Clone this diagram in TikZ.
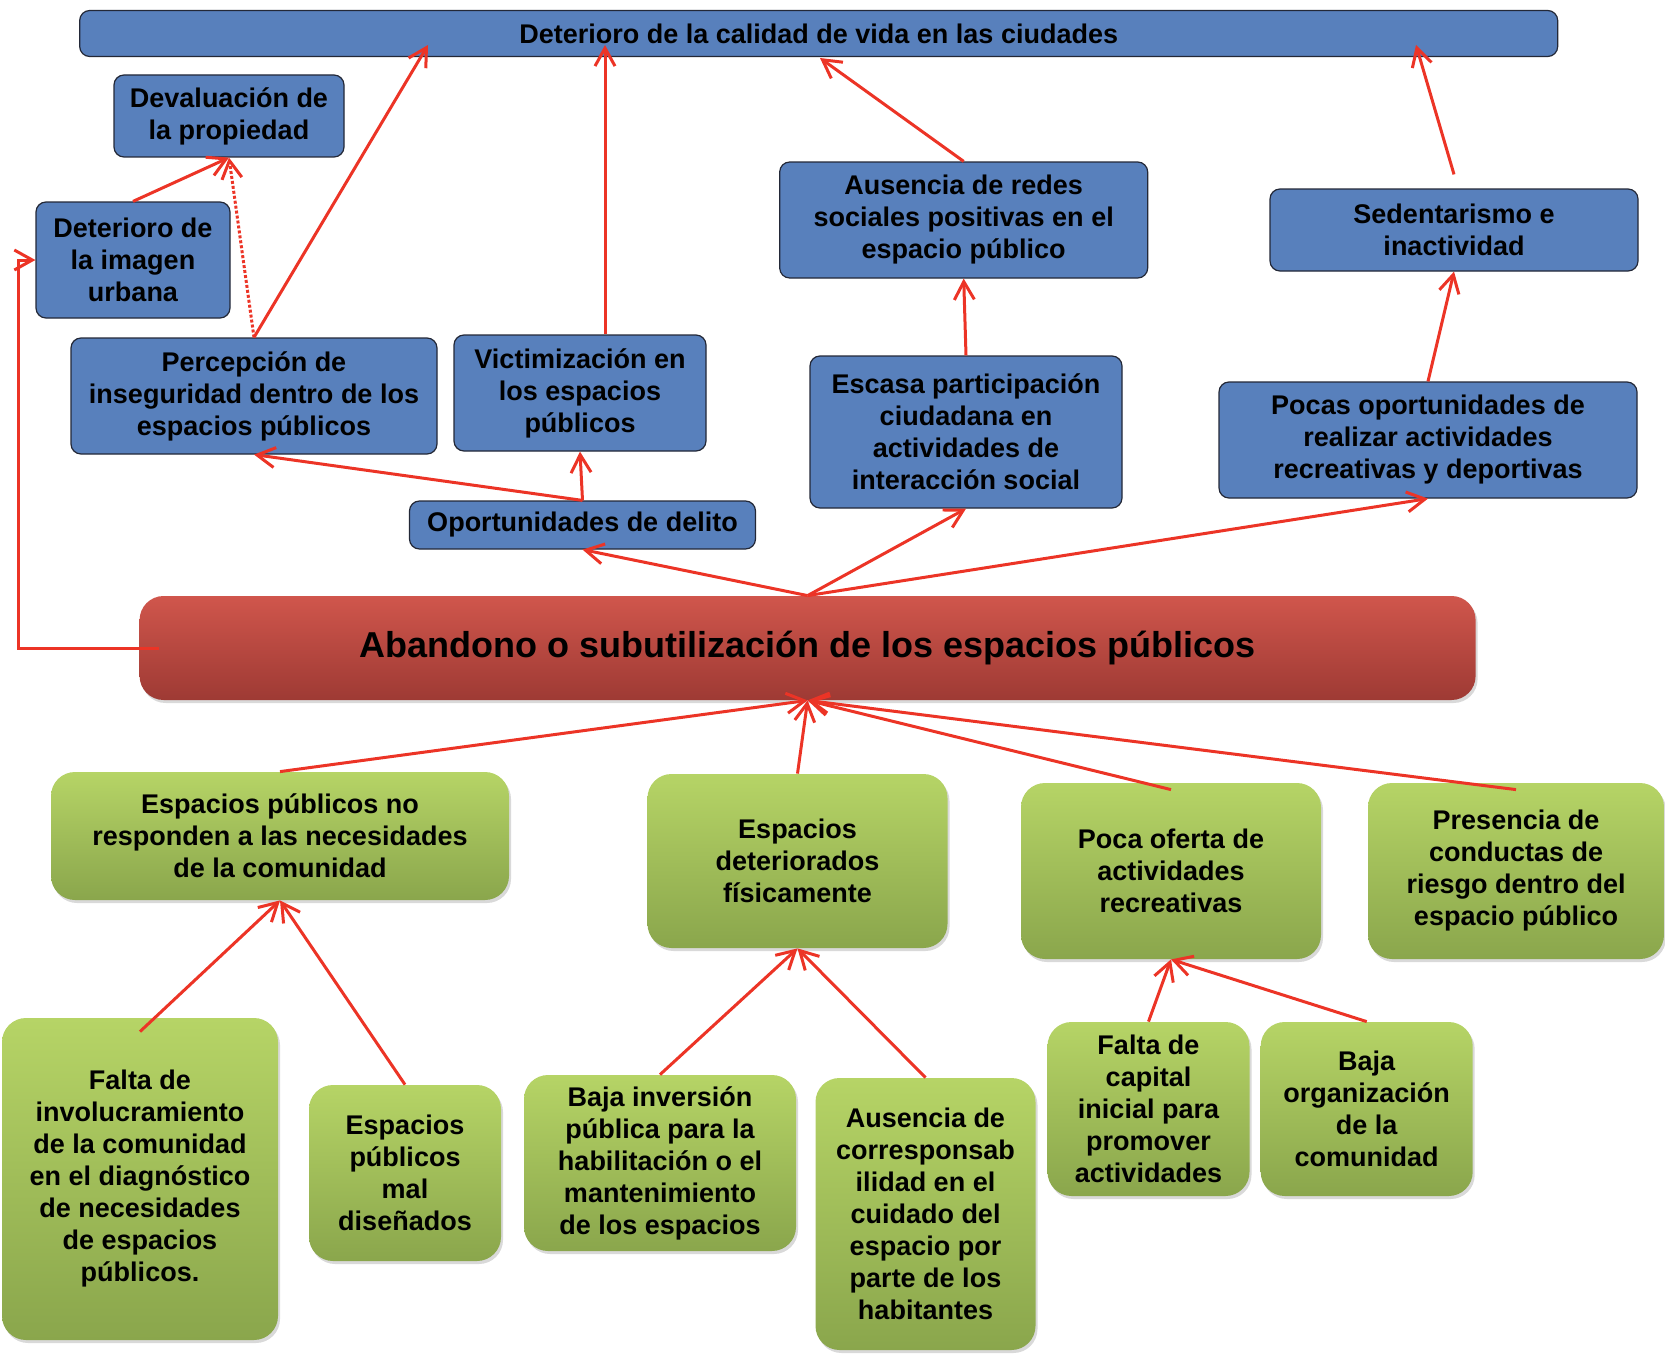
\documentclass[tikz,border=0pt]{standalone}
\usepackage{fontspec}
\setmainfont{Liberation Sans}
\usetikzlibrary{positioning,arrows.meta,calc,shadows}

\definecolor{azul}{RGB}{88,128,188}
\definecolor{borde}{RGB}{35,40,55}
\definecolor{rojo}{RGB}{236,52,38}
\definecolor{verdeA}{RGB}{182,212,102}
\definecolor{verdeB}{RGB}{138,166,76}
\definecolor{rojoA}{RGB}{208,86,76}
\definecolor{rojoB}{RGB}{158,58,52}

\begin{document}
\begin{tikzpicture}[x=0.5pt,y=-0.5pt,>={Straight Barb[length=9pt,width=10pt]},align=center,
	font=\bfseries\fontsize{13.5}{16}\selectfont,
	efecto/.style={fill=azul,draw=borde,line width=0.6pt,rounded corners=5pt,inner sep=0pt},
	causa/.style={top color=verdeA,bottom color=verdeB,rounded corners=12pt,inner sep=0pt,
		drop shadow={opacity=0.3,shadow xshift=1pt,shadow yshift=-1.5pt}},
	problema/.style={top color=rojoA,bottom color=rojoB,rounded corners=12pt,inner sep=0pt,
		font=\bfseries\fontsize{18}{22}\selectfont,
		drop shadow={opacity=0.3,shadow xshift=1pt,shadow yshift=-1.5pt}},
	flecha/.style={->,draw=rojo,line width=1.5pt}]
	\useasboundingbox (0,0) rectangle (1665,1354);
	
	%% Efectos
	\node (Calidad) [efecto,minimum width=739pt,minimum height=23pt] at (818.7,33.5) 
	{Deterioro de la calidad de vida en las ciudades};
	\node (Devaluacion) [efecto,minimum width=115pt,minimum height=41pt] at (229,116) 
	{Devaluación de\\la propiedad};
	\node (Imagen) [efecto,minimum width=97pt,minimum height=58pt] at (133,260) 
	{Deterioro de\\la imagen\\urbana};
	\node (Percepcion) [efecto,minimum width=183pt,minimum height=58pt] at (254,396) 
	{Percepción de\\inseguridad dentro de los\\espacios públicos};
	\node (Victimizacion) [efecto,minimum width=126pt,minimum height=58pt] at (580,393) 
	{Victimización en\\los espacios\\públicos};
	\node (Delito) [efecto,minimum width=173pt,minimum height=24pt] at (582.5,525) 
	{Oportunidades de delito};
	\node (Redes) [efecto,minimum width=184pt,minimum height=58pt] at (963.7,220) 
	{Ausencia de redes\\sociales positivas en el\\espacio público};
	\node (Participacion) [efecto,minimum width=156pt,minimum height=76pt] at (966,432) 
	{Escasa participación\\ciudadana en\\actividades de\\interacción social};
	\node (Sedentarismo) [efecto,minimum width=184pt,minimum height=41pt] at (1454,230) 
	{Sedentarismo e\\inactividad};
	\node (Recreativas) [efecto,minimum width=209pt,minimum height=58pt] at (1428,440) 
	{Pocas oportunidades de\\realizar actividades\\recreativas y deportivas};
	
	%% Problema central
	\node (Abandono) [problema,minimum width=668pt,minimum height=52pt] at (807.6,648) 
	{Abandono o subutilización de los espacios públicos};
	
	%% Causas
	\node (NoResponden) [causa,minimum width=229pt,minimum height=64pt] at (280,836) 
	{Espacios públicos no\\responden a las necesidades\\de la comunidad};
	\node (Deteriorados) [causa,minimum width=150pt,minimum height=87pt] at (797.5,861) 
	{Espacios\\deteriorados\\físicamente};
	\node (Oferta) [causa,minimum width=150pt,minimum height=88pt] at (1171,871) 
	{Poca oferta de\\actividades\\recreativas};
	\node (Conductas) [causa,minimum width=148pt,minimum height=88pt] at (1516,871) 
	{Presencia de\\conductas de\\riesgo dentro del\\espacio público};
	
	%% Causas de segundo nivel
	\node (Involucramiento) [causa,minimum width=138pt,minimum height=161pt] at (140,1179) 
	{Falta de\\involucramiento\\de la comunidad\\en el diagnóstico\\de necesidades\\de espacios\\públicos.};
	\node (MalDisenados) [causa,minimum width=96pt,minimum height=88pt] at (405,1173) 
	{Espacios\\públicos\\mal\\diseñados};
	\node (Inversion) [causa,minimum width=136pt,minimum height=88pt] at (660,1163) 
	{Baja inversión\\pública para la\\habilitación o el\\mantenimiento\\de los espacios};
	\node (Corresponsab) [causa,minimum width=110pt,minimum height=136pt] at (925.5,1214) 
	{Ausencia de\\corresponsab\\ilidad en el\\cuidado del\\espacio por\\parte de los\\habitantes};
	\node (Capital) [causa,minimum width=101pt,minimum height=87pt] at (1148.5,1109) 
	{Falta de\\capital\\inicial para\\promover\\actividades};
	\node (Organizacion) [causa,minimum width=106pt,minimum height=87pt] at (1366.7,1109) 
	{Baja\\organización\\de la\\comunidad};
	
	%% Puntos de llegada en la barra superior
	\coordinate (C1) at (428,45);
	\coordinate (C2) at (605,45);
	\coordinate (C3) at (820,58);
	\coordinate (C4) at (1416,45);
	
	%% Flechas de efectos
	\draw[flecha] (Imagen.north) -- (Devaluacion.south);
	\draw[flecha,densely dotted] (Percepcion.north) -- (Devaluacion.south);
	\draw[flecha] (Percepcion.north) -- (C1);
	\draw[flecha] (C2 |- Victimizacion.north) -- (C2);
	\draw[flecha] (Redes.north) -- (C3);
	\draw[flecha] ([yshift=7pt]Sedentarismo.north) -- (C4);
	\draw[flecha] (Participacion.north) -- (Redes.south);
	\draw[flecha] (Recreativas.north) -- (Sedentarismo.south);
	\draw[flecha] (Delito.north) -- (Percepcion.south);
	\draw[flecha] (Delito.north) -- (Victimizacion.south);
	\draw[flecha] (Abandono.north) -- (Delito.south);
	\draw[flecha] (Abandono.north) -- (Participacion.south);
	\draw[flecha] (Abandono.north) -- (Recreativas.south);
	\draw[flecha] ([xshift=10pt]Abandono.west) -- ++(-141,0) |- (Imagen.west);
	
	%% Flechas de causas
	\draw[flecha] (NoResponden.north) -- (Abandono.south);
	\draw[flecha] (Deteriorados.north) -- (Abandono.south);
	\draw[flecha] ([yshift=-3.5pt]Oferta.north) -- (Abandono.south);
	\draw[flecha] ([yshift=-3.5pt]Conductas.north) -- (Abandono.south);
	\draw[flecha] ([yshift=-7pt]Involucramiento.north) -- (NoResponden.south);
	\draw[flecha] (MalDisenados.north) -- (NoResponden.south);
	\draw[flecha] (Inversion.north) -- (Deteriorados.south);
	\draw[flecha] (Corresponsab.north) -- (Deteriorados.south);
	\draw[flecha] (Capital.north) -- (Oferta.south);
	\draw[flecha] (Organizacion.north) -- (Oferta.south);
\end{tikzpicture}
\end{document}
